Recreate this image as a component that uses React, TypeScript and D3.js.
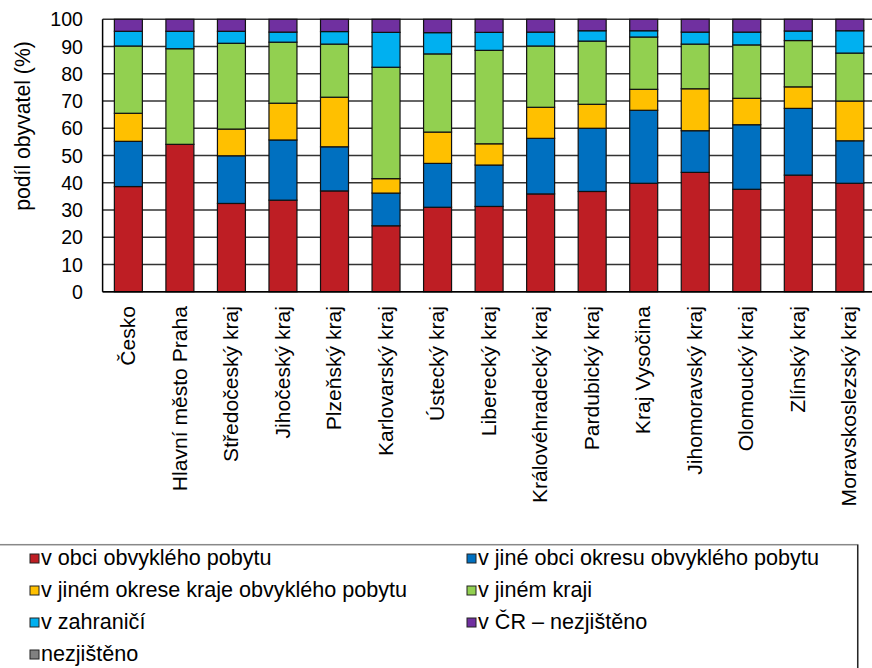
import React from "react";
import * as d3 from "d3";

const categories = [
  "Česko",
  "Hlavní město Praha",
  "Středočeský kraj",
  "Jihočeský kraj",
  "Plzeňský kraj",
  "Karlovarský kraj",
  "Ústecký kraj",
  "Liberecký kraj",
  "Královéhradecký kraj",
  "Pardubický kraj",
  "Kraj Vysočina",
  "Jihomoravský kraj",
  "Olomoucký kraj",
  "Zlínský kraj",
  "Moravskoslezský kraj",
];

const seriesNames = [
  "v obci obvyklého pobytu",
  "v jiné obci okresu obvyklého pobytu",
  "v jiném okrese kraje obvyklého pobytu",
  "v jiném kraji",
  "v zahraničí",
  "v ČR – nezjištěno",
  "nezjištěno",
];

const vObci = [38.6, 54.1, 32.4, 33.6, 37.0, 24.2, 31.0, 31.3, 35.9, 36.8, 39.8, 43.8, 37.6, 42.8, 39.8];
const vJineObci = [16.6, 0, 17.5, 22.1, 16.2, 12.0, 16.1, 15.2, 20.4, 23.2, 26.8, 15.3, 23.7, 24.5, 15.6];
const vJinemOkrese = [10.3, 0, 9.8, 13.5, 18.2, 5.3, 11.5, 7.8, 11.4, 8.8, 7.7, 15.4, 9.7, 7.9, 14.6];
const vJinemKraji = [24.7, 35.1, 31.5, 22.4, 19.5, 40.9, 28.7, 34.3, 22.5, 23.2, 19.2, 16.4, 19.6, 17.0, 17.6];
const vZahranici = [5.4, 6.4, 4.4, 3.7, 4.6, 12.8, 7.8, 6.6, 5.1, 3.8, 2.3, 4.4, 4.7, 3.5, 8.2];
const vCRNezjisteno = [4.4, 4.4, 4.4, 4.7, 4.5, 4.8, 4.9, 4.8, 4.7, 4.2, 4.2, 4.7, 4.7, 4.3, 4.2];
const nezjisteno = [0, 0, 0, 0, 0, 0, 0, 0, 0, 0, 0, 0, 0, 0, 0];

const yTicks = [0, 10, 20, 30, 40, 50, 60, 70, 80, 90, 100];

const colors = ["#BE1E24", "#0070C0", "#FFC000", "#92D050", "#00B0F0", "#7030A0", "#808080"];

const seriesValues = [vObci, vJineObci, vJinemOkrese, vJinemKraji, vZahranici, vCRNezjisteno, nezjisteno];

const FONT = "'Liberation Sans', Arial, sans-serif";

export default function App() {
  const W = 872;
  const H = 668;
  const left = 102.6;
  const right = 875.6;
  const top = 19.3;
  const bottom = 291.7;

  const rows = categories.map((c, i) => {
    const r: any = { cat: c };
    seriesNames.forEach((s, k) => {
      r[s] = seriesValues[k][i];
    });
    return r;
  });

  const stack = d3.stack<any>().keys(seriesNames);
  const stacked = stack(rows);

  const x = d3
    .scaleBand<string>()
    .domain(categories)
    .range([left, right])
    .paddingInner(0.457)
    .paddingOuter(0.2285);
  const y = d3.scaleLinear().domain([0, 100]).range([bottom, top]);

  // legend layout
  const legendCols = [30, 467];
  const legendRows = [565, 597, 629, 661];

  return (
    <svg
      width={W}
      height={H}
      style={{ position: "absolute", left: 0, top: 0, background: "#fff" }}
      fontFamily={FONT}
    >
      {/* gridlines */}
      {yTicks.map((t) => (
        <line
          key={"g" + t}
          x1={left}
          x2={right}
          y1={y(t)}
          y2={y(t)}
          stroke="#333"
          strokeWidth={1.4}
        />
      ))}
      {/* bars */}
      {stacked.map((layer, k) => (
        <g key={"s" + k} fill={colors[k]}>
          {layer.map((d, i) => {
            const h = y(d[0]) - y(d[1]);
            if (h <= 0) return null;
            return (
              <rect
                key={i}
                x={x(categories[i])}
                y={y(d[1])}
                width={x.bandwidth()}
                height={h}
                stroke="#111"
                strokeWidth={1.2}
              />
            );
          })}
        </g>
      ))}
      {/* axes */}
      <line x1={left} x2={left} y1={top} y2={bottom} stroke="#000" strokeWidth={1.5} />
      <line x1={left} x2={right} y1={bottom} y2={bottom} stroke="#000" strokeWidth={1.5} />
      {yTicks.map((t) => (
        <text
          key={"t" + t}
          x={83}
          y={y(t)}
          dy="0.36em"
          textAnchor="end"
          fontSize={19.6}
          fill="#000"
        >
          {t}
        </text>
      ))}
      <text
        transform={`translate(22,126) rotate(-90)`}
        textAnchor="middle"
        dy="0.36em"
        fontSize={21.2}
        fill="#000"
      >
        podíl obyvatel (%)
      </text>
      {categories.map((c) => (
        <text
          key={c}
          transform={`translate(${(x(c) as number) + x.bandwidth() / 2 - 1},306) rotate(-90)`}
          textAnchor="end"
          dy="0.36em"
          fontSize={21.1}
          fill="#000"
        >
          {c}
        </text>
      ))}
      {/* legend */}
      <rect x={-2} y={544.7} width={859.7} height={140} fill="none" stroke="#888" strokeWidth={1.5} />
      <line x1={857.7} x2={857.7} y1={544.7} y2={H} stroke="#222" strokeWidth={1.3} />
      {seriesNames.map((s, k) => {
        const col = k % 2;
        const row = Math.floor(k / 2);
        const lx = legendCols[col];
        const ly = legendRows[row];
        return (
          <g key={"l" + k}>
            <rect
              x={lx}
              y={ly - 11}
              width={9}
              height={9}
              fill={colors[k]}
              stroke="#222"
              strokeWidth={1}
            />
            <text x={lx + 11} y={ly} fontSize={21.6} fill="#000">
              {s}
            </text>
          </g>
        );
      })}
    </svg>
  );
}
